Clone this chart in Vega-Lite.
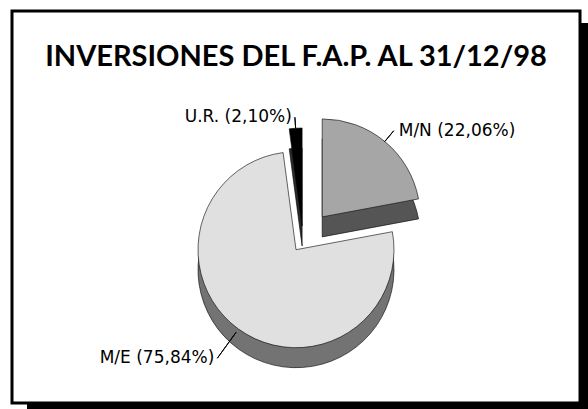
{
  "$schema": "https://vega.github.io/schema/vega-lite/v6.json",
  "width": 568,
  "height": 392,
  "autosize": {"type": "none"},
  "padding": {"left": 12, "top": 11, "right": 8, "bottom": 6},
  "background": "white",
  "config": {"view": {"stroke": "transparent"}},
  "title": {
    "text": "INVERSIONES DEL F.A.P. AL 31/12/98",
    "font": "Lato",
    "fontSize": 29,
    "fontWeight": "bold",
    "color": "#000000",
    "anchor": "middle",
    "frame": "group",
    "baseline": "alphabetic",
    "offset": -85.5
  },
  "data": {
    "values": [
      {"slice": "U.R.", "label": "U.R. (2,10%)", "pct": 2.10},
      {"slice": "M/N", "label": "M/N (22,06%)", "pct": 22.06},
      {"slice": "M/E", "label": "M/E (75,84%)", "pct": 75.84}
    ]
  },
  "layer": [
    {
      "data": {"values": [{}]},
      "mark": {"type": "rect", "x": 15, "y": 12, "x2": {"expr": "width + 15"}, "y2": {"expr": "height + 12"}, "fill": "#000000"},
      "encoding": {}
    },
    {
      "data": {"values": [{}]},
      "mark": {"type": "rect", "x": 0, "y": 0, "x2": {"expr": "width"}, "y2": {"expr": "height"}, "fill": "#ffffff", "stroke": "#000000", "strokeWidth": 3},
      "encoding": {}
    },
    {
      "transform": [
        {"stack": "pct", "groupby": [], "sort": [{"field": "slice", "order": "descending"}], "as": ["t0", "t1"]},
        {"filter": "datum.slice === 'U.R.'"}
      ],
      "mark": {"type": "arc", "radius": 98, "xOffset": 6.1, "yOffset": 39, "fill": "#2a2a2a", "stroke": "#000000", "strokeWidth": 0.6},
      "encoding": {
        "theta": {"field": "t0", "type": "quantitative", "stack": null, "scale": {"domain": [0, 100], "range": [-0.131947, 6.151238]}},
        "theta2": {"field": "t1"}
      }
    },
    {
      "transform": [
        {"stack": "pct", "groupby": [], "sort": [{"field": "slice", "order": "descending"}], "as": ["t0", "t1"]},
        {"filter": "datum.slice === 'U.R.'"}
      ],
      "mark": {"type": "arc", "radius": 98, "xOffset": 6.1, "yOffset": 19, "fill": "#000000", "stroke": "#000000", "strokeWidth": 0.6},
      "encoding": {
        "theta": {"field": "t0", "type": "quantitative", "stack": null},
        "theta2": {"field": "t1"}
      }
    },
    {
      "transform": [
        {"stack": "pct", "groupby": [], "sort": [{"field": "slice", "order": "descending"}], "as": ["t0", "t1"]},
        {"filter": "datum.slice === 'M/N'"}
      ],
      "mark": {"type": "arc", "radius": 98, "xOffset": 26.2, "yOffset": 29.9, "fill": "#555555", "stroke": "#000000", "strokeWidth": 0.6},
      "encoding": {
        "theta": {"field": "t0", "type": "quantitative", "stack": null},
        "theta2": {"field": "t1"}
      }
    },
    {
      "transform": [
        {"stack": "pct", "groupby": [], "sort": [{"field": "slice", "order": "descending"}], "as": ["t0", "t1"]},
        {"filter": "datum.slice === 'M/N'"}
      ],
      "mark": {"type": "arc", "radius": 98, "xOffset": 26.2, "yOffset": 9.9, "fill": "#a6a6a6", "stroke": "#000000", "strokeWidth": 0.6},
      "encoding": {
        "theta": {"field": "t0", "type": "quantitative", "stack": null},
        "theta2": {"field": "t1"}
      }
    },
    {
      "transform": [
        {"stack": "pct", "groupby": [], "sort": [{"field": "slice", "order": "descending"}], "as": ["t0", "t1"]},
        {"filter": "datum.slice === 'M/E'"}
      ],
      "mark": {"type": "arc", "radius": 98, "xOffset": 0, "yOffset": 62.7, "fill": "#737373", "stroke": "#000000", "strokeWidth": 0.6},
      "encoding": {
        "theta": {"field": "t0", "type": "quantitative", "stack": null},
        "theta2": {"field": "t1"}
      }
    },
    {
      "transform": [
        {"stack": "pct", "groupby": [], "sort": [{"field": "slice", "order": "descending"}], "as": ["t0", "t1"]},
        {"filter": "datum.slice === 'M/E'"}
      ],
      "mark": {"type": "arc", "radius": 98, "xOffset": 0, "yOffset": 42.7, "fill": "#e0e0e0", "stroke": "#000000", "strokeWidth": 0.6},
      "encoding": {
        "theta": {"field": "t0", "type": "quantitative", "stack": null},
        "theta2": {"field": "t1"}
      }
    },
    {
      "transform": [
        {"stack": "pct", "groupby": [], "sort": [{"field": "slice", "order": "descending"}], "as": ["t0", "t1"]},
        {"fold": ["t0", "t1"], "as": ["edge", "edgeAt"]},
        {"aggregate": [{"op": "mean", "field": "edgeAt", "as": "mid"}], "groupby": ["slice", "label"]},
        {"filter": "datum.slice === 'U.R.'"}
      ],
      "layer": [
        {
          "mark": {"type": "arc", "radius": 123, "radius2": 112, "xOffset": 7, "yOffset": 33, "fill": "transparent", "stroke": "#000000", "strokeWidth": 1},
          "encoding": {
            "theta": {"field": "mid", "type": "quantitative", "stack": null},
            "theta2": {"field": "mid"}
          }
        },
        {
          "mark": {"type": "text", "radius": 123, "align": "right", "baseline": "middle", "dx": -3, "xOffset": 7, "yOffset": 33, "font": "DejaVu Sans", "fontSize": 17, "color": "#000000"},
          "encoding": {
            "theta": {"field": "mid", "type": "quantitative", "stack": null},
            "text": {"field": "label", "type": "nominal"}
          }
        }
      ]
    },
    {
      "transform": [
        {"stack": "pct", "groupby": [], "sort": [{"field": "slice", "order": "descending"}], "as": ["t0", "t1"]},
        {"fold": ["t0", "t1"], "as": ["edge", "edgeAt"]},
        {"aggregate": [{"op": "mean", "field": "edgeAt", "as": "mid"}], "groupby": ["slice", "label"]},
        {"filter": "datum.slice === 'M/N'"}
      ],
      "layer": [
        {
          "mark": {"type": "arc", "radius": 142, "radius2": 128, "xOffset": 7, "yOffset": 33, "fill": "transparent", "stroke": "#000000", "strokeWidth": 1},
          "encoding": {
            "theta": {"field": "mid", "type": "quantitative", "stack": null},
            "theta2": {"field": "mid"}
          }
        },
        {
          "mark": {"type": "text", "radius": 142, "align": "left", "baseline": "middle", "dx": 5, "xOffset": 7, "yOffset": 33, "font": "DejaVu Sans", "fontSize": 17, "color": "#000000"},
          "encoding": {
            "theta": {"field": "mid", "type": "quantitative", "stack": null},
            "text": {"field": "label", "type": "nominal"}
          }
        }
      ]
    },
    {
      "transform": [
        {"stack": "pct", "groupby": [], "sort": [{"field": "slice", "order": "descending"}], "as": ["t0", "t1"]},
        {"fold": ["t0", "t1"], "as": ["edge", "edgeAt"]},
        {"aggregate": [{"op": "mean", "field": "edgeAt", "as": "mid"}], "groupby": ["slice", "label"]},
        {"filter": "datum.slice === 'M/E'"}
      ],
      "layer": [
        {
          "mark": {"type": "arc", "radius": 146, "radius2": 114, "xOffset": 7, "yOffset": 33, "fill": "transparent", "stroke": "#000000", "strokeWidth": 1},
          "encoding": {
            "theta": {"field": "mid", "type": "quantitative", "stack": null},
            "theta2": {"field": "mid"}
          }
        },
        {
          "mark": {"type": "text", "radius": 146, "align": "right", "baseline": "middle", "dx": -3, "xOffset": 7, "yOffset": 33, "font": "DejaVu Sans", "fontSize": 17, "color": "#000000"},
          "encoding": {
            "theta": {"field": "mid", "type": "quantitative", "stack": null},
            "text": {"field": "label", "type": "nominal"}
          }
        }
      ]
    }
  ]
}
